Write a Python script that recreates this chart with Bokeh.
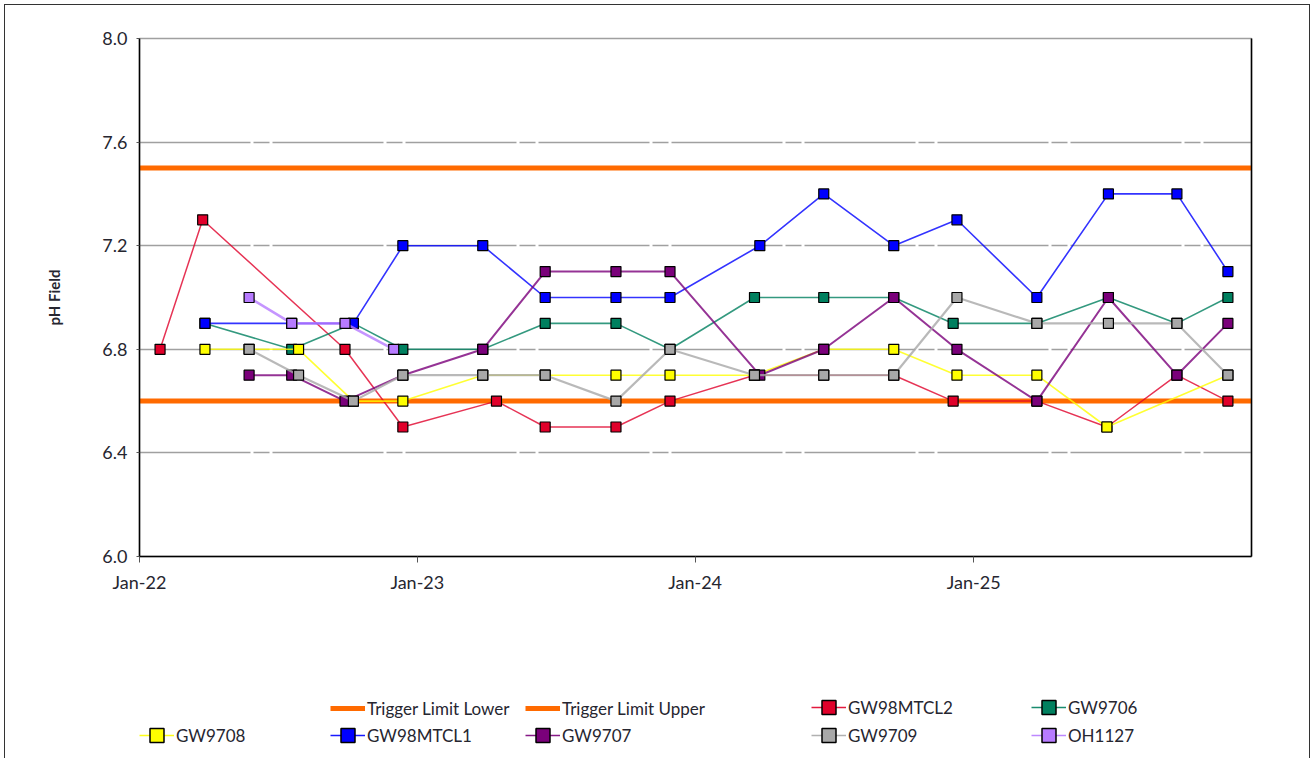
import pandas as pd
from bokeh.plotting import figure
from bokeh.layouts import column
from bokeh.models import (Range1d, FixedTicker, LinearAxis, Legend, LegendItem,
                          PrintfTickFormatter)
from bokeh.embed import file_html
from bokeh.resources import INLINE

# ---------------- data ----------------
x_ticks = ["2022-01-01", "2023-01-01", "2024-01-01", "2025-01-01"]
x_tick_labels = ["Jan-22", "Jan-23", "Jan-24", "Jan-25"]
x_start, x_end = "2022-01-01", "2026-01-01"
y_ticks = [6.0, 6.4, 6.8, 7.2, 7.6, 8.0]
y_label = "pH Field"

trigger_lower = 6.6
trigger_upper = 7.5

gw98mtcl2_dates = ["2022-01-28", "2022-03-25", "2022-09-28", "2022-12-13", "2023-04-15",
                   "2023-06-18", "2023-09-19", "2023-11-29", "2024-03-19", "2024-06-18",
                   "2024-09-18", "2024-12-05", "2025-03-25", "2025-06-25", "2025-09-25",
                   "2025-12-01"]
gw98mtcl2_ph = [6.8, 7.3, 6.8, 6.5, 6.6, 6.5, 6.5, 6.6, 6.7, 6.7, 6.7, 6.6, 6.6, 6.5, 6.7, 6.6]

gw9706_dates = ["2022-03-28", "2022-07-20", "2022-10-09", "2022-12-13", "2023-03-28",
                "2023-06-18", "2023-09-19", "2023-11-29", "2024-03-19", "2024-06-18",
                "2024-09-18", "2024-12-05", "2025-03-25", "2025-06-27", "2025-09-25",
                "2025-12-01"]
gw9706_ph = [6.9, 6.8, 6.9, 6.8, 6.8, 6.9, 6.9, 6.8, 7.0, 7.0, 7.0, 6.9, 6.9, 7.0, 6.9, 7.0]

gw9708_dates = ["2022-03-28", "2022-05-25", "2022-07-29", "2022-10-09", "2022-12-13",
                "2023-03-28", "2023-06-18", "2023-09-19", "2023-11-29", "2024-03-19",
                "2024-06-18", "2024-09-18", "2024-12-10", "2025-03-25", "2025-06-25",
                "2025-12-01"]
gw9708_ph = [6.8, 6.8, 6.8, 6.6, 6.6, 6.7, 6.7, 6.7, 6.7, 6.7, 6.8, 6.8, 6.7, 6.7, 6.5, 6.7]

gw98mtcl1_dates = ["2022-03-28", "2022-07-20", "2022-10-09", "2022-12-13", "2023-03-28",
                   "2023-06-18", "2023-09-19", "2023-11-29", "2024-03-26", "2024-06-18",
                   "2024-09-18", "2024-12-10", "2025-03-25", "2025-06-27", "2025-09-25",
                   "2025-12-01"]
gw98mtcl1_ph = [6.9, 6.9, 6.9, 7.2, 7.2, 7.0, 7.0, 7.0, 7.2, 7.4, 7.2, 7.3, 7.0, 7.4, 7.4, 7.1]

gw9707_dates = ["2022-05-25", "2022-07-20", "2022-09-28", "2022-12-13", "2023-03-28",
                "2023-06-18", "2023-09-19", "2023-11-29", "2024-03-26", "2024-06-18",
                "2024-09-18", "2024-12-10", "2025-03-25", "2025-06-27", "2025-09-25",
                "2025-12-01"]
gw9707_ph = [6.7, 6.7, 6.6, 6.7, 6.8, 7.1, 7.1, 7.1, 6.7, 6.8, 7.0, 6.8, 6.6, 7.0, 6.7, 6.9]

gw9709_dates = ["2022-05-25", "2022-07-29", "2022-10-09", "2022-12-13", "2023-03-28",
                "2023-06-18", "2023-09-19", "2023-11-29", "2024-03-19", "2024-06-18",
                "2024-09-18", "2024-12-10", "2025-03-25", "2025-06-27", "2025-09-25",
                "2025-12-01"]
gw9709_ph = [6.8, 6.7, 6.6, 6.7, 6.7, 6.7, 6.6, 6.8, 6.7, 6.7, 6.7, 7.0, 6.9, 6.9, 6.9, 6.7]

oh1127_dates = ["2022-05-25", "2022-07-20", "2022-09-28", "2022-12-01"]
oh1127_ph = [7.0, 6.9, 6.9, 6.8]

# (name, dates, values, colour, line width)
series = [
    ("GW98MTCL2", gw98mtcl2_dates, gw98mtcl2_ph, "#e0002a", 1.5),
    ("GW9706", gw9706_dates, gw9706_ph, "#00805f", 1.6),
    ("GW9708", gw9708_dates, gw9708_ph, "#ffff00", 1.6),
    ("GW98MTCL1", gw98mtcl1_dates, gw98mtcl1_ph, "#0000ff", 1.6),
    ("GW9707", gw9707_dates, gw9707_ph, "#7a007a", 2.0),
    ("GW9709", gw9709_dates, gw9709_ph, "#a8a8a8", 2.2),
    ("OH1127", oh1127_dates, oh1127_ph, "#b77bff", 2.6),
]
TRIGGER_COLOR = "#ff6a00"

# ---------------- layout constants ----------------
FONT = "Lato"
TEXT = "#262630"
W = 1314
MAIN_H = 600
LEG_H = 166
FRAME_L, FRAME_T, FRAME_R, FRAME_B = 139, 38, 1251, 556

# ---------------- main chart ----------------
p = figure(width=W, height=MAIN_H, x_axis_type="datetime",
           x_range=Range1d(pd.Timestamp(x_start), pd.Timestamp(x_end)),
           y_range=Range1d(6.0, 8.0),
           output_backend="svg", toolbar_location=None,
           min_border_left=FRAME_L, min_border_right=W - FRAME_R,
           min_border_top=FRAME_T, min_border_bottom=MAIN_H - FRAME_B)
p.outline_line_color = "#a0a0a0"
p.outline_line_width = 1.5
p.background_fill_color = "white"
p.border_fill_alpha = 0

p.xgrid.grid_line_color = None
p.ygrid.ticker = FixedTicker(ticks=y_ticks)
p.ygrid.grid_line_color = "#a0a0a0"
p.ygrid.grid_line_width = 1.5
p.ygrid.grid_line_dash = "111 3 16 3"

yax = p.yaxis[0]
yax.ticker = FixedTicker(ticks=y_ticks)
yax.formatter = PrintfTickFormatter(format="%.1f")
yax.axis_line_color = "black"
yax.axis_line_width = 1.5
yax.major_tick_line_color = "#555555"
yax.major_tick_out = 3
yax.major_tick_in = 0
yax.minor_tick_line_color = None
yax.major_label_text_font = FONT
yax.major_label_text_font_size = "18px"
yax.major_label_text_color = TEXT
yax.major_label_standoff = 9
yax.axis_label = y_label
yax.axis_label_text_font = FONT
yax.axis_label_text_font_style = "bold"
yax.axis_label_text_font_size = "15px"
yax.axis_label_text_color = TEXT
yax.axis_label_standoff = 36

tick_ms = [pd.Timestamp(t).value // 10**6 for t in x_ticks]
xax = p.xaxis[0]
xax.ticker = FixedTicker(ticks=tick_ms)
xax.major_label_overrides = {float(m): lab for m, lab in zip(tick_ms, x_tick_labels)}
xax.axis_line_color = "black"
xax.axis_line_width = 1.5
xax.major_tick_line_color = "#555555"
xax.major_tick_out = 6
xax.major_tick_in = 0
xax.minor_tick_line_color = None
xax.major_label_text_font = FONT
xax.major_label_text_font_size = "18px"
xax.major_label_text_color = TEXT
xax.major_label_standoff = 8

rax = LinearAxis(ticker=FixedTicker(ticks=[]), major_label_text_font_size="0px",
                 major_tick_line_color=None, minor_tick_line_color=None,
                 axis_line_color="black", axis_line_width=1.5)
p.add_layout(rax, "right")

lim_x = [pd.Timestamp(x_start), pd.Timestamp(x_end)]
p.line(lim_x, [trigger_lower, trigger_lower], line_color=TRIGGER_COLOR, line_width=5)
p.line(lim_x, [trigger_upper, trigger_upper], line_color=TRIGGER_COLOR, line_width=5)

for name, dates, vals, color, lw in series:
    xs = pd.to_datetime(dates)
    p.line(xs, vals, line_color=color, line_width=lw, line_alpha=0.8)
    p.scatter(xs, vals, marker="square", size=10, fill_color=color,
              line_color="black", line_width=1.2)

# ---------------- legend strip (its frame is aligned with the chart frame) -----
q = figure(width=W, height=LEG_H, x_axis_type=None, y_axis_type=None,
           x_range=Range1d(0, 1), y_range=Range1d(0, 1),
           output_backend="svg", toolbar_location=None, min_border=0)
q.outline_line_color = None
q.xgrid.grid_line_color = None
q.ygrid.grid_line_color = None
q.border_fill_alpha = 0
q.background_fill_alpha = 0

# legend proxies: one point far outside the strip's visible range
PX, PY = [-5.0, -4.0], [-5.0, -4.0]
leg_r = {}
leg_r["Trigger Limit Lower"] = [q.line(PX, PY, line_color=TRIGGER_COLOR, line_width=5)]
leg_r["Trigger Limit Upper"] = [q.line(PX, PY, line_color=TRIGGER_COLOR, line_width=5)]
for name, dates, vals, color, lw in series:
    leg_r[name] = [q.line(PX, PY, line_color=color, line_width=1.5, line_alpha=0.9),
                   q.scatter(PX[:1], PY[:1], marker="square", fill_color=color,
                             line_color="black", line_width=1.5)]

GW, GH, STAND = 35, 40, 2
# (label, page x of label start, page y of row centre)
legend_layout = [
    ("Trigger Limit Lower", 367, 708),
    ("Trigger Limit Upper", 562, 708),
    ("GW98MTCL2", 848, 707),
    ("GW9706", 1068, 707),
    ("GW9708", 176, 735),
    ("GW98MTCL1", 367, 735),
    ("GW9707", 562, 735),
    ("GW9709", 848, 735),
    ("OH1127", 1068, 735),
]
total_h = MAIN_H + LEG_H
for label, text_x, cy in legend_layout:
    gx = text_x - GW - STAND
    leg = Legend(items=[LegendItem(label=label, renderers=leg_r[label])],
                 location=(gx - FRAME_L, total_h - (cy + GH / 2)),
                 orientation="vertical", padding=0, margin=0, spacing=0,
                 glyph_width=GW, glyph_height=GH, label_standoff=STAND,
                 label_text_font=FONT, label_text_font_size="17px",
                 label_text_color=TEXT, border_line_color=None,
                 background_fill_alpha=0)
    q.add_layout(leg)

layout = column(p, q, spacing=0)
layout.styles = {"outline": "1.5px solid #333333", "outline-offset": "-5px",
                 "clip-path": "inset(0px 0px 8px 0px)", "background": "white"}

open("out.html", "w").write(file_html(layout, INLINE))
